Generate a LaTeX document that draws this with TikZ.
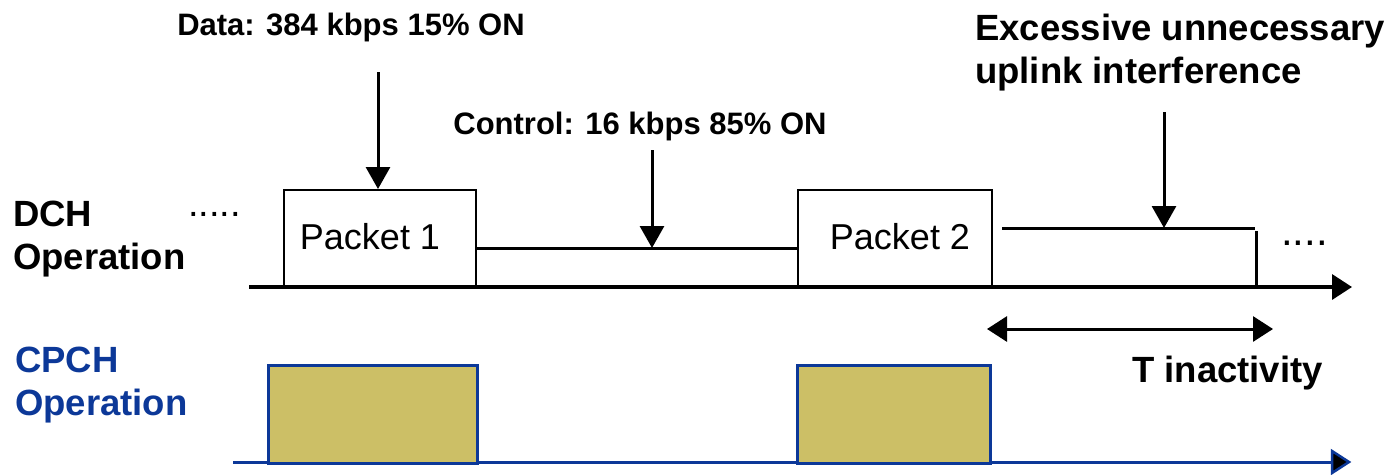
\documentclass[tikz,border=0pt]{standalone}
\usepackage{fontspec}
\setmainfont{Liberation Sans}
\usetikzlibrary{arrows.meta}
\definecolor{cpblue}{RGB}{12,56,152}
\definecolor{burstfill}{RGB}{204,191,102}
\begin{document}
\begin{tikzpicture}[x=1pt,y=-1pt,
  lbl/.style={font=\fontsize{36.5}{43}\selectfont\bfseries, inner sep=0pt, align=left},
  note/.style={font=\fontsize{31}{37}\selectfont\bfseries, inner sep=0pt},
  pkttext/.style={font=\fontsize{36}{43}\selectfont, inner sep=0pt},
  dots/.style={inner sep=0pt, anchor=base west},
  pkt/.style={draw, line width=2pt, inner sep=0pt, anchor=north west},
  burst/.style={draw=cpblue, fill=burstfill, line width=2.5pt, inner sep=0pt, anchor=north west},
  axis/.style={line width=3.5pt, -{Triangle[length=20pt,width=25pt]}},
  baxis/.style={draw=cpblue, line width=3pt},
  btip/.style={draw=cpblue, fill=black, line width=2.5pt, line join=miter},
  pointer/.style={line width=3pt, -{Triangle[length=22pt,width=24pt]}},
  level/.style={line width=3pt},
  span/.style={line width=3pt, {Triangle[length=20pt,width=25pt]}-{Triangle[length=20pt,width=25pt]}}]
\useasboundingbox (0,0) rectangle (1397,474);

% ---------- DCH row ----------
\node[lbl, anchor=north west] (dch) at (13,201) {DCH\\Operation};
\node[dots, font=\fontsize{38}{40}\selectfont] (dl) at (188,216) {.....};

\node[pkt, minimum width=192pt, minimum height=98pt] (p1) at (283,189) {};
\node[pkt, minimum width=194pt, minimum height=98pt] (p2) at (797,189) {};
\node[pkttext, anchor=base] (p1t) at (370,249) {Packet 1};
\node[pkttext, anchor=base] (p2t) at (900,249) {Packet 2};

% control channel level between the packets
\coordinate (ctl) at (0,248);
\draw[level] (p1.east |- ctl) -- (p2.west |- ctl);

% control channel kept on after the last packet
\coordinate (tailL) at (1002,228);
\coordinate (tailR) at (1255,228);
\coordinate (dropT) at (1256,231);
\coordinate (dropB) at (1256,285);
\draw[level] (tailL) -- (tailR);
\draw[level] (dropT) -- (dropB);
\node[dots, font=\fontsize{42}{44}\selectfont] (dr) at (1281,245) {....};

% time axis
\coordinate (ax0) at (249,287);
\coordinate (ax1) at (1352,287);
\draw[axis] (ax0) -- (ax1);

% annotations
\node[note, anchor=base] (data) at (351,35) {Data: 384 kbps 15\% ON};
\node[note, anchor=base] (ctrl) at (640,134) {Control: 16 kbps 85\% ON};
\node[lbl, anchor=north west] (exc) at (975,14) {Excessive unnecessary\\uplink interference};

\coordinate (a1) at (378,72);
\coordinate (a2) at (652,150);
\coordinate (a3) at (1164,112);
\draw[pointer] (a1) -- (a1 |- p1.north);
\draw[pointer] (a2) -- (a2 |- ctl);
\draw[pointer] (a3) -- (a3 |- tailL);

% inactivity timer
\coordinate (ti0) at (987,329);
\coordinate (ti1) at (1273,329);
\draw[span] (ti0) -- (ti1);
\node[lbl, anchor=base west] (tin) at (1132,382) {T inactivity};

% ---------- CPCH row ----------
\node[lbl, anchor=north west, text=cpblue] (cpch) at (15,347) {CPCH\\Operation};
\coordinate (bx0) at (233,462);
\coordinate (bx1) at (1332,462);
\draw[baxis] (bx0) -- (bx1);
% black head with blue rim at the end of the CPCH time axis
\filldraw[btip] (1332,451) -- (1349,462) -- (1332,473) -- cycle;
\node[burst, minimum width=209pt, minimum height=98pt] (c1) at (267,364) {};
\node[burst, minimum width=193pt, minimum height=98pt] (c2) at (796,364) {};
\end{tikzpicture}
\end{document}
